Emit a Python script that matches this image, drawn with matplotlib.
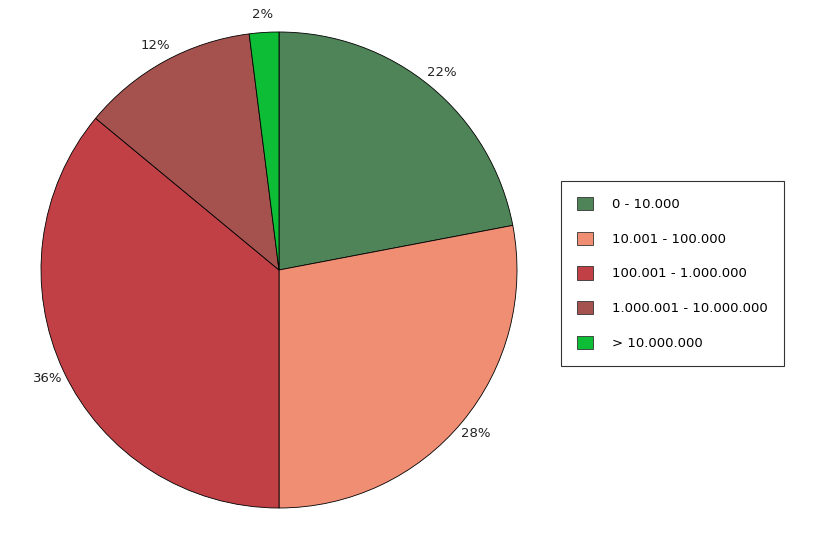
import matplotlib
matplotlib.use('Agg')
import matplotlib.pyplot as plt
from matplotlib.patches import Patch

categories = ['0 - 10.000', '10.001 - 100.000', '100.001 - 1.000.000',
              '1.000.001 - 10.000.000', '> 10.000.000']
shares = [22, 28, 36, 12, 2]
colors = ['#4E8457', '#F08E74', '#C14045', '#A5524F', '#0DBD35']

fig = plt.figure(figsize=(8.17, 5.36), dpi=100)
ax = fig.add_axes([(279 - 238) / 817, (536 - 270 - 238) / 536, 476 / 817, 476 / 536])
wedges, texts, autotexts = ax.pie(
    shares, colors=colors, startangle=90, counterclock=False,
    autopct=lambda p: f'{p:.0f}%', pctdistance=1.075,
    wedgeprops=dict(edgecolor='black', linewidth=0.6),
    textprops=dict(fontsize=9.5, color='#222222'))
for t in autotexts:
    t.set_clip_on(False)
ax.set_xlim(-1, 1)
ax.set_ylim(-1, 1)
ax.set_aspect('equal')
ax.axis('off')

handles = [Patch(facecolor=c, edgecolor='#333333', linewidth=0.6) for c in colors]
leg = fig.legend(handles, categories, loc='upper left',
                 bbox_to_anchor=(561 / 817, 1 - 181 / 536), fontsize=9.5,
                 frameon=True, fancybox=False, borderpad=1.2, labelspacing=1.55,
                 handlelength=1.2, handleheight=1.2, handletextpad=1.5,
                 borderaxespad=0)
leg.get_frame().set_edgecolor('black')
leg.get_frame().set_linewidth(0.8)

fig.savefig('out.png', dpi=100, facecolor='white')
